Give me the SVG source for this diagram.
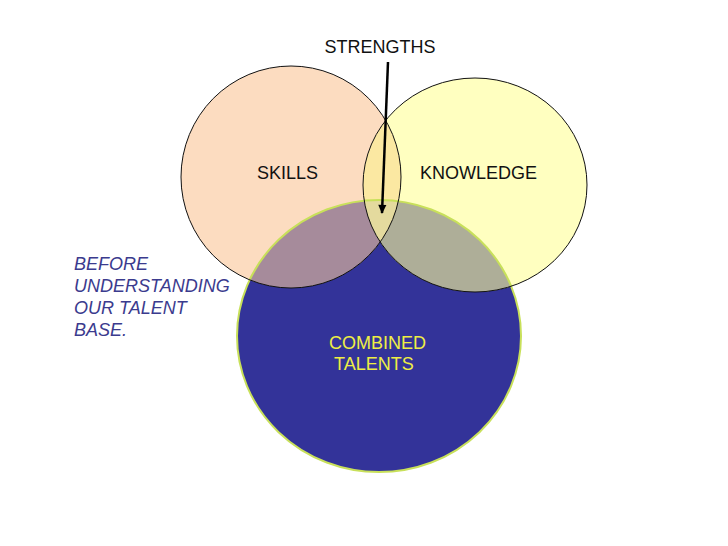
<svg xmlns="http://www.w3.org/2000/svg" width="728" height="546" viewBox="0 0 728 546">
<style>
.lbl{font-family:"Liberation Sans",Arial,sans-serif;font-size:18px;fill:#111}
.note{font-family:"Liberation Sans",Arial,sans-serif;font-size:18px;font-style:italic;fill:#3b3b8e}
.yel{font-family:"Liberation Sans",Arial,sans-serif;font-size:18px;fill:#eeee44}
.outline{fill:none;stroke:#111;stroke-width:1}
</style>
<defs>
<clipPath id="cS"><ellipse cx="291" cy="177" rx="110" ry="111"/></clipPath>
<clipPath id="cK"><ellipse cx="475" cy="185" rx="112" ry="107"/></clipPath>
<clipPath id="cC"><ellipse cx="379" cy="336" rx="142" ry="136"/></clipPath>
<marker id="ah" viewBox="0 0 10 10" refX="9" refY="5" markerWidth="11" markerHeight="9" orient="auto" markerUnits="userSpaceOnUse">
<path d="M0,0.5 L10,5 L0,9.5 z" fill="#000"/>
</marker>
</defs>
<rect width="728" height="546" fill="#fff"/>
<g id="combined">
<ellipse cx="379" cy="336" rx="142" ry="136" fill="#333399"/>
</g>
<g id="skills">
<ellipse cx="291" cy="177" rx="110" ry="111" fill="#fcdcc0"/>
</g>
<g id="knowledge">
<ellipse cx="475" cy="185" rx="112" ry="107" fill="#ffffc0"/>
</g>
<g id="overlaps">
<g clip-path="url(#cS)"><ellipse cx="475" cy="185" rx="112" ry="107" fill="#fbe8a2"/></g>
<g clip-path="url(#cC)">
<ellipse cx="291" cy="177" rx="110" ry="111" fill="#a68b9b"/>
<ellipse cx="475" cy="185" rx="112" ry="107" fill="#aeae98"/>
<g clip-path="url(#cS)"><ellipse cx="475" cy="185" rx="112" ry="107" fill="#e4da9e"/></g>
</g>
</g>
<g id="outlines">
<ellipse cx="379" cy="336" rx="142" ry="136" fill="none" stroke="#c8e05a" stroke-width="2"/>
<ellipse class="outline" cx="291" cy="177" rx="110" ry="111"/>
<ellipse class="outline" cx="475" cy="185" rx="112" ry="107"/>
</g>
<g id="labels">
<text class="lbl" x="380" y="53" text-anchor="middle">STRENGTHS</text>
<text class="lbl" x="257" y="179">SKILLS</text>
<text class="lbl" x="420" y="179">KNOWLEDGE</text>
<text class="yel" x="329" y="349">COMBINED</text>
<text class="yel" x="334" y="370">TALENTS</text>
</g>
<g id="note">
<text class="note" x="74" y="270">BEFORE</text>
<text class="note" x="74" y="292">UNDERSTANDING</text>
<text class="note" x="74" y="314">OUR TALENT</text>
<text class="note" x="74" y="336">BASE.</text>
</g>
<g id="connectors">
<line x1="388" y1="62" x2="382" y2="213" stroke="#000" stroke-width="2.5" marker-end="url(#ah)"/>
</g>
</svg>
